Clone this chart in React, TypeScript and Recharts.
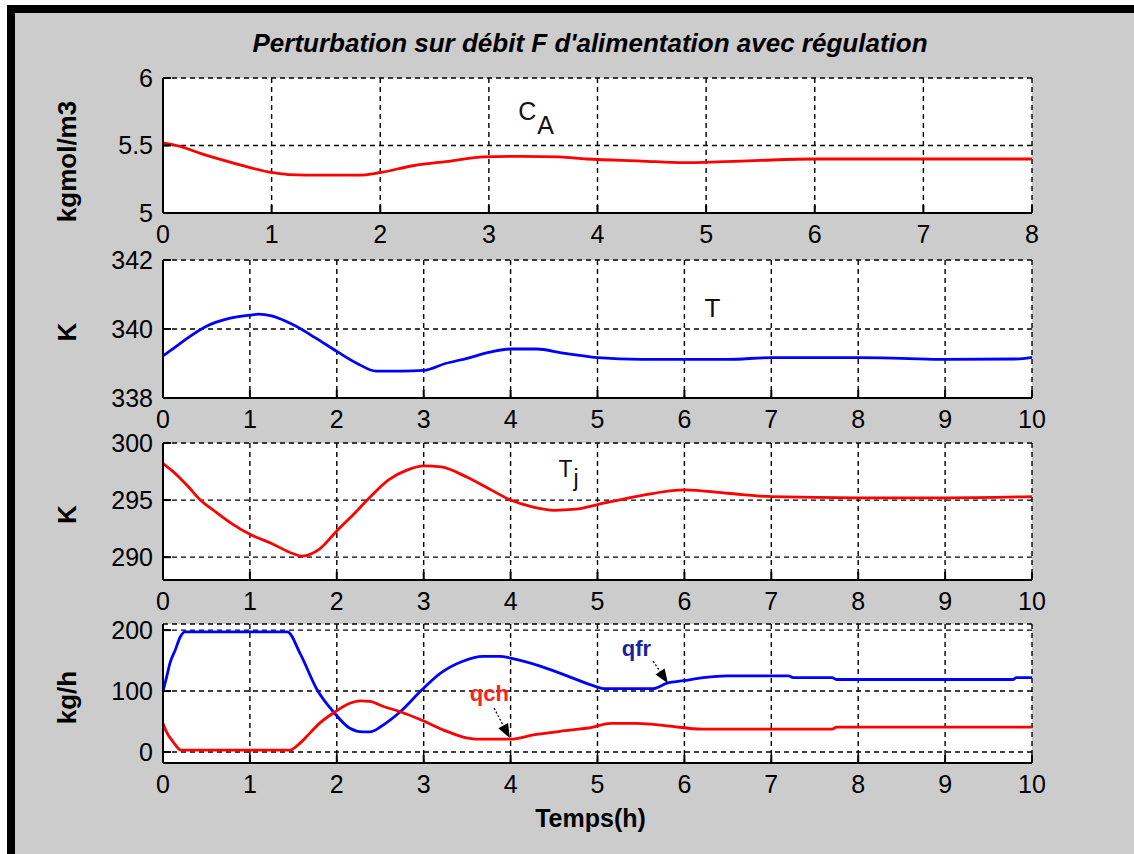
import React from 'react';
import { LineChart, Line, XAxis, YAxis, CartesianGrid, ReferenceDot, ReferenceLine } from 'recharts';

const FONT = '"Liberation Sans", Arial, Helvetica, sans-serif';

// ---------- data ----------
const titleText = "Perturbation sur débit F d'alimentation avec régulation";

const caTime = [0, 0.15, 0.35, 0.65, 1.0, 1.15, 1.5, 1.8, 2.0, 2.3, 2.65, 2.95, 3.3, 3.65, 3.9, 4.4, 4.8, 5.1, 5.5, 6.0, 7.0, 8.0];
const caVal = [5.52, 5.495, 5.44, 5.37, 5.30, 5.285, 5.28, 5.28, 5.30, 5.35, 5.385, 5.415, 5.42, 5.415, 5.40, 5.385, 5.373, 5.378, 5.39, 5.40, 5.40, 5.40];

const tTime = [0, 0.1, 0.25, 0.5, 0.75, 1.0, 1.1, 1.25, 1.5, 1.75, 2.0, 2.25, 2.45, 2.75, 3.0, 3.25, 3.5, 3.75, 4.0, 4.3, 4.6, 5.0, 5.5, 6.0, 6.5, 7.0, 8.0, 8.5, 9.0, 9.8, 10];
const tVal = [339.22, 339.4, 339.68, 340.08, 340.3, 340.4, 340.43, 340.38, 340.12, 339.75, 339.35, 338.98, 338.78, 338.78, 338.8, 339.0, 339.15, 339.32, 339.42, 339.42, 339.3, 339.17, 339.12, 339.12, 339.12, 339.17, 339.17, 339.15, 339.12, 339.13, 339.18];

const tjTime = [0, 0.1, 0.2, 0.3, 0.43, 0.6, 0.8, 1.0, 1.25, 1.5, 1.6, 1.8, 2.0, 2.2, 2.35, 2.6, 2.8, 3.0, 3.2, 3.5, 3.75, 4.0, 4.25, 4.5, 4.75, 5.0, 5.5, 6.0, 6.5, 7.0, 8.0, 9.0, 10];
const tjVal = [298.2, 297.6, 296.9, 296.1, 295.0, 294.0, 292.9, 292.0, 291.2, 290.3, 290.1, 290.7, 292.3, 293.8, 295.0, 296.8, 297.6, 298.0, 297.9, 297.0, 296.0, 295.0, 294.4, 294.1, 294.2, 294.6, 295.4, 295.9, 295.6, 295.3, 295.2, 295.2, 295.3];

const qfrTime = [0, 0.04, 0.08, 0.14, 0.2, 0.25, 1.43, 1.58, 1.77, 1.96, 2.15, 2.3, 2.38, 2.53, 2.73, 2.98, 3.19, 3.45, 3.68, 3.88, 4.0, 4.34, 4.65, 4.99, 5.07, 5.64, 5.8, 5.99, 6.22, 6.49, 7.2, 7.25, 7.7, 7.75, 9.78, 9.82, 10];
const qfrVal = [100, 122, 146, 167, 189, 197, 197, 161, 103, 66, 39, 33, 33, 44, 66, 102, 129, 149, 157, 157, 154, 141, 125, 107, 104, 104, 113, 117, 122, 125, 125, 122, 122, 119, 119, 122, 122];

const qchTime = [0, 0.04, 0.12, 0.21, 1.46, 1.58, 1.69, 1.8, 1.96, 2.15, 2.27, 2.38, 2.53, 2.73, 2.98, 3.23, 3.5, 3.6, 4.0, 4.26, 4.57, 4.95, 5.15, 5.45, 5.8, 6.2, 7.7, 7.75, 10];
const qchVal = [47, 33, 16, 3, 3, 15, 31, 47, 64, 80, 84, 83, 75, 66, 52, 36, 23, 21, 21, 28, 34, 41, 47, 47, 43, 37.5, 37.5, 41, 41];

const xTicks8 = [0, 1, 2, 3, 4, 5, 6, 7, 8];
const xTicks10 = [0, 1, 2, 3, 4, 5, 6, 7, 8, 9, 10];
const caTicks = [5, 5.5, 6];
const tTicks = [338, 340, 342];
const tjTicks = [290, 295, 300];
const qTicks = [0, 100, 200];

const yLabels = ['kgmol/m3', 'K', 'K', 'kg/h'];
const xLabel = 'Temps(h)';

// annotation anchors (data coordinates)
const caNote = { t: 3.27, v: 5.689 };
const tNote = { t: 6.23, v: 340.35 };
const tjNote = { t: 4.55, v: 296.99 };
const qfrNote = { t: 5.28, v: 157 };
const qchNote = { t: 3.53, v: 83.6 };
const qfrArrow = [{ x: 5.64, y: 149 }, { x: 5.81, y: 113 }];
const qchArrow = [{ x: 3.81, y: 72 }, { x: 3.99, y: 23 }];

const rows = (ts: number[], vs: number[]) => ts.map((t, i) => ({ t, v: vs[i] }));

// ---------- components ----------
function YLab(props: any) {
  const { viewBox, text, shift } = props;
  if (!viewBox) return null;
  const bx = viewBox.x + 33;
  const cy = viewBox.y + viewBox.height / 2 + shift;
  return (
    <text x={bx} y={cy} transform={`rotate(-90 ${bx} ${cy})`} textAnchor="middle"
      fontSize={26} fontWeight="bold" fill="#000" fontFamily={FONT}>{text}</text>
  );
}

function XLab(props: any) {
  const { viewBox, text } = props;
  if (!viewBox) return null;
  const cx = viewBox.x + viewBox.width / 2 - 7;
  const by = viewBox.y + 64;
  return (
    <text x={cx} y={by} textAnchor="middle" fontSize={25} fontWeight="bold" fill="#000" fontFamily={FONT}>{text}</text>
  );
}

function arrowShape(p: any) {
  const { x1, y1, x2, y2 } = p;
  if ([x1, y1, x2, y2].some((v) => typeof v !== 'number' || isNaN(v))) return <g />;
  const dx = x2 - x1, dy = y2 - y1;
  const len = Math.sqrt(dx * dx + dy * dy) || 1;
  const ux = dx / len, uy = dy / len;
  const hl = 14, hw = 5.5;
  const bxp = x2 - ux * hl, byp = y2 - uy * hl;
  const nx = -uy, ny = ux;
  return (
    <g>
      <line x1={x1} y1={y1} x2={bxp} y2={byp} stroke="#000" strokeWidth={1.3} strokeDasharray="2 2" />
      <polygon points={`${x2},${y2} ${bxp + nx * hw},${byp + ny * hw} ${bxp - nx * hw},${byp - ny * hw}`} fill="#000" />
    </g>
  );
}

type Series = { data: { t: number; v: number }[]; color: string };

const PAD = 20;

function Panel(props: {
  top: number; bottom: number; xMax: number; xTicks: number[]; yDomain: [number, number]; yTicks: number[];
  series: Series[]; ylabel: string; labelShift: number; xh: number; xlabel?: string; children?: React.ReactNode;
}) {
  const { top, bottom, xMax, xTicks, yDomain, yTicks, series, ylabel, labelShift, xh, xlabel, children } = props;
  const h = bottom - top + PAD + xh;
  const axisStroke = { stroke: '#000', strokeWidth: 2 };
  const tickStroke = { stroke: '#000', strokeWidth: 2 };
  return (
    <div style={{ position: 'absolute', left: 0, top: top - PAD, width: 1134, height: h }}>
      <LineChart width={1134} height={h} margin={{ top: PAD, right: 102, bottom: 0, left: 43 }}>
        <CartesianGrid stroke="#000" strokeDasharray="5 4" strokeWidth={1.4} fill="#ffffff" fillOpacity={1} />
        <XAxis type="number" dataKey="t" domain={[0, xMax]} ticks={xTicks} interval={0} allowDataOverflow
          height={xh} tickSize={-8} tickMargin={20} axisLine={axisStroke} tickLine={tickStroke}
          tick={{ fill: '#000', fontSize: 25, fontFamily: FONT }}
          label={xlabel ? <XLab text={xlabel} /> : undefined} />
        <XAxis xAxisId="top" orientation="top" type="number" dataKey="t" domain={[0, xMax]} ticks={xTicks}
          interval={0} allowDataOverflow height={0} tickSize={-8} axisLine={axisStroke} tickLine={tickStroke} tick={false} />
        <YAxis type="number" domain={yDomain} ticks={yTicks} interval={0} allowDataOverflow width={120}
          tickSize={-8} tickMargin={18} axisLine={axisStroke} tickLine={tickStroke}
          tick={{ fill: '#000', fontSize: 25, fontFamily: FONT }}
          label={<YLab text={ylabel} shift={labelShift} />} />
        <YAxis yAxisId="right" orientation="right" type="number" domain={yDomain} ticks={yTicks} interval={0}
          allowDataOverflow width={0} tickSize={-8} axisLine={axisStroke} tickLine={tickStroke} tick={false} />
        {series.map((s, i) => (
          <Line key={i} data={s.data} dataKey="v" type="monotone" stroke={s.color} strokeWidth={2.8}
            dot={false} activeDot={false} isAnimationActive={false} />
        ))}
        {children}
      </LineChart>
    </div>
  );
}

function noteText(content: React.ReactNode, color: string, size: number, weight: string) {
  return (p: any) => (
    <text x={p.cx} y={p.cy} fill={color} fontSize={size} fontWeight={weight} fontFamily={FONT}>{content}</text>
  );
}

export default function App() {
  return (
    <div style={{ position: 'absolute', left: 0, top: 0, width: 1134, height: 854, background: '#cccccc', overflow: 'hidden', fontFamily: FONT }}>
      <div style={{ position: 'absolute', left: 0, top: 0, width: 1134, height: 5, background: '#ffffff' }} />
      <div style={{ position: 'absolute', left: 0, top: 0, width: 7, height: 854, background: '#ffffff' }} />
      <div style={{ position: 'absolute', left: 7, top: 5, width: 1127, height: 8, background: '#000' }} />
      <div style={{ position: 'absolute', left: 7, top: 5, width: 8, height: 849, background: '#000' }} />
      <svg style={{ position: 'absolute', left: 0, top: 0 }} width={1134} height={80}>
        <text x={590} y={52} textAnchor="middle" fontSize={26} fontWeight="bold" fontStyle="italic" fill="#000" fontFamily={FONT}>{titleText}</text>
      </svg>

      <Panel top={78} bottom={213} xMax={8} xTicks={xTicks8} yDomain={[5, 6]} yTicks={caTicks}
        series={[{ data: rows(caTime, caVal), color: '#ff0000' }]} ylabel={yLabels[0]} labelShift={16} xh={44}>
        <ReferenceDot x={caNote.t} y={caNote.v} r={0} ifOverflow="visible"
          shape={noteText(<><tspan>C</tspan><tspan dx={1} dy={14}>A</tspan></>, '#111', 25, 'normal')} />
      </Panel>

      <Panel top={260} bottom={398} xMax={10} xTicks={xTicks10} yDomain={[338, 342]} yTicks={tTicks}
        series={[{ data: rows(tTime, tVal), color: '#0000ff' }]} ylabel={yLabels[1]} labelShift={3} xh={42}>
        <ReferenceDot x={tNote.t} y={tNote.v} r={0} ifOverflow="visible"
          shape={noteText('T', '#111', 26, 'normal')} />
      </Panel>

      <Panel top={443} bottom={580} xMax={10} xTicks={xTicks10} yDomain={[288, 300]} yTicks={tjTicks}
        series={[{ data: rows(tjTime, tjVal), color: '#ff0000' }]} ylabel={yLabels[2]} labelShift={3} xh={42}>
        <ReferenceDot x={tjNote.t} y={tjNote.v} r={0} ifOverflow="visible"
          shape={noteText(<><tspan>T</tspan><tspan dx={1} dy={9}>j</tspan></>, '#111', 23, 'normal')} />
      </Panel>

      <Panel top={624} bottom={763} xMax={10} xTicks={xTicks10} yDomain={[-18, 210]} yTicks={qTicks}
        series={[{ data: rows(qfrTime, qfrVal), color: '#0000ff' }, { data: rows(qchTime, qchVal), color: '#ff0000' }]}
        ylabel={yLabels[3]} labelShift={4} xh={80} xlabel={xLabel}>
        <ReferenceLine segment={qfrArrow} ifOverflow="visible" shape={arrowShape} />
        <ReferenceLine segment={qchArrow} ifOverflow="visible" shape={arrowShape} />
        <ReferenceDot x={qfrNote.t} y={qfrNote.v} r={0} ifOverflow="visible"
          shape={noteText('qfr', '#20209a', 22, 'bold')} />
        <ReferenceDot x={qchNote.t} y={qchNote.v} r={0} ifOverflow="visible"
          shape={noteText('qch', '#ff2020', 22, 'bold')} />
      </Panel>
    </div>
  );
}
